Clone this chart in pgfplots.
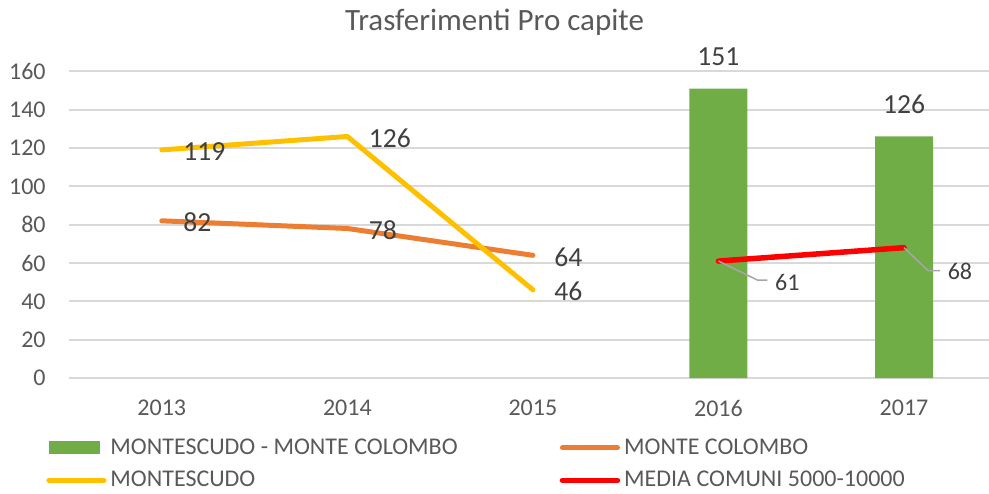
\documentclass[border=0pt]{standalone}
\usepackage{pgfplots}
\pgfplotsset{compat=1.18}
\usepackage{fontspec}
\setmainfont{Carlito}
\definecolor{cgreen}{HTML}{70AD47}
\definecolor{corange}{HTML}{ED7D31}
\definecolor{cyellow}{HTML}{FFC000}
\definecolor{cred}{HTML}{FF0000}
\definecolor{cgrid}{HTML}{D9D9D9}
\definecolor{ctick}{HTML}{595959}
\definecolor{clab}{HTML}{404040}
\definecolor{clead}{HTML}{A6A6A6}
\begin{document}
\begin{tikzpicture}[x=1pt,y=1pt]
\useasboundingbox (0,0) rectangle (494.5,246.5);
\node[text=ctick, font=\fontsize{15.5}{18}\selectfont] at (247.25,235.5) {Trasferimenti Pro capite};
\begin{axis}[
  at={(34.5pt,57.5pt)}, anchor=south west,
  scale only axis, width=460pt, height=153.35pt,
  xmin=-0.5, xmax=4.458, ymin=0, ymax=160,
  clip=false,
  axis line style={draw=none}, tick style={draw=none},
  ymajorgrids, grid style={cgrid, line width=0.9pt},
  ytick={0,20,...,160},
  xtick={0,1,2,3,4}, xticklabels={2013,2014,2015,2016,2017},
  /pgf/number format/assume math mode=true,
  tick label style={text=ctick, font=\fontsize{12}{14}\selectfont, inner sep=0pt},
  yticklabel style={anchor=east, xshift=-11.5pt},
  xticklabel style={anchor=center, yshift=-15pt},
  legend columns=2,
  legend cell align=left,
  legend style={at={(axis description cs:-0.025,-0.183)}, anchor=north west,
    draw=none, fill=none, inner sep=0pt, font=\fontsize{12}{14}\selectfont, text=ctick,
    /tikz/every even column/.append style={column sep=49pt},
    row sep=3pt,
    nodes={inner sep=2pt}},
]
\addplot[ybar, bar width=29pt, fill=cgreen, draw=none,
  nodes near coords,
  every node near coord/.append style={anchor=center, yshift=16pt, inner sep=0pt, text=clab, font=\fontsize{13.8}{16}\selectfont},
  legend image code/.code={\fill[cgreen] (0pt,-3.25pt) rectangle (25.5pt,3.25pt);}
] coordinates {(3,151) (4,126)};
\addlegendentry{MONTESCUDO - MONTE COLOMBO}
\addplot[corange, line width=2.5pt, line cap=round, line join=round,
  nodes near coords,
  every node near coord/.append style={anchor=west, xshift=9.5pt, yshift=-0.75pt, inner sep=0pt, text=clab, font=\fontsize{13.8}{16}\selectfont},
  legend image code/.code={\draw[line width=2.5pt, line cap=round] (0pt,0pt) -- (27.5pt,0pt);}
] coordinates {(0,82) (1,78) (2,64)};
\addlegendentry{MONTE COLOMBO}
\addplot[cyellow, line width=2.5pt, line cap=round, line join=round,
  nodes near coords,
  every node near coord/.append style={anchor=west, xshift=9.5pt, yshift=-0.75pt, inner sep=0pt, text=clab, font=\fontsize{13.8}{16}\selectfont},
  legend image code/.code={\draw[line width=2.5pt, line cap=round] (0pt,0pt) -- (27.5pt,0pt);}
] coordinates {(0,119) (1,126) (2,46)};
\addlegendentry{MONTESCUDO}
\addplot[cred, line width=2.75pt, line cap=round, line join=round,
  nodes near coords,
  visualization depends on={value \thisrow{dx}\as\dx},
  visualization depends on={value \thisrow{dy}\as\dy},
  every node near coord/.append style={anchor=west, xshift=\dx pt, yshift=\dy pt, inner sep=0pt, text=clab, font=\fontsize{12}{14}\selectfont},
  legend image code/.code={\draw[line width=2.75pt, line cap=round] (0pt,0pt) -- (27.5pt,0pt);}
] table {
x y dx dy
3 61 27 -10.5
4 68 20.5 -12
};
\addlegendentry{MEDIA COMUNI 5000-10000}
\draw[clead, line width=0.75pt] (axis cs:3,61) -- ++(19.5pt,-9.5pt) -- ++(5pt,0pt);
\draw[clead, line width=0.75pt] (axis cs:4,68) -- ++(12pt,-11.5pt) -- ++(6pt,0pt);
\end{axis}
\end{tikzpicture}
\end{document}
